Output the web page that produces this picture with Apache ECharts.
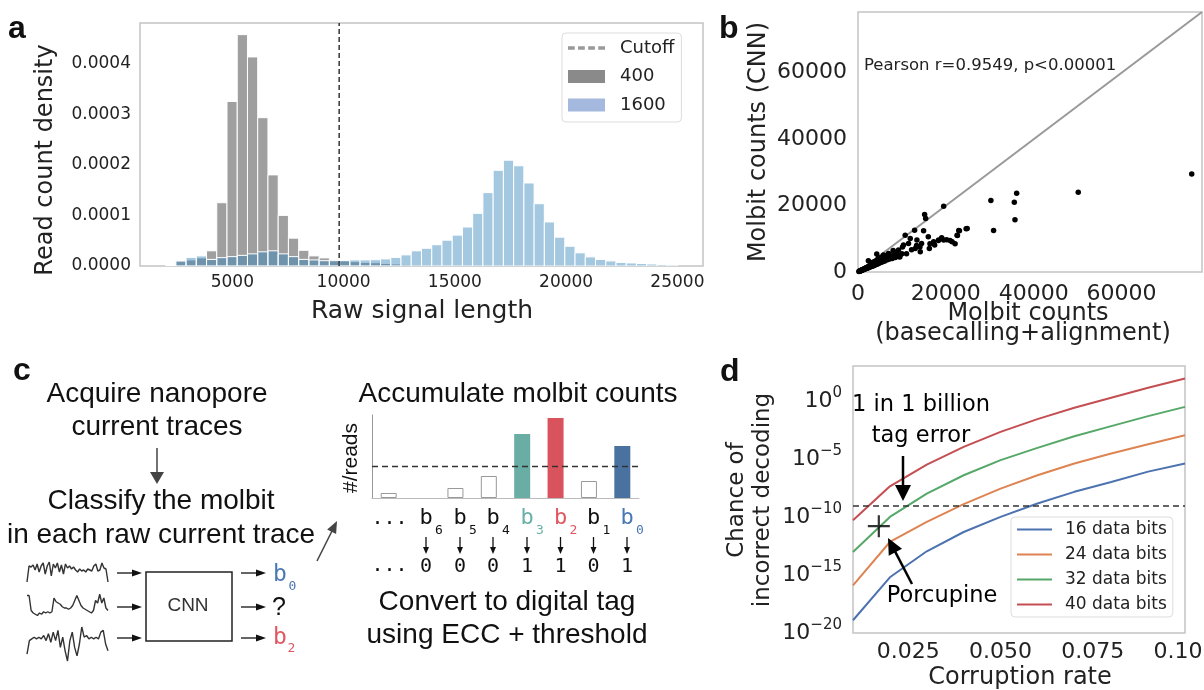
<!DOCTYPE html>
<html><head><meta charset="utf-8">
<script src="https://cdn.jsdelivr.net/npm/echarts@6/dist/echarts.min.js"></script>
<style>html,body{margin:0;padding:0;background:#fff}#c{width:1204px;height:690px}</style>
</head><body><div id="c"></div>
<script>
// ---------- Panel a: histogram of raw signal length ----------
const binStart = 2000, binWidth = 460;
const density400 = [0.01e-4,0.10e-4,0.12e-4,0.16e-4,0.30e-4,1.25e-4,3.25e-4,4.57e-4,4.13e-4,2.93e-4,1.80e-4,1.00e-4,0.55e-4,0.31e-4,0.20e-4,0.16e-4,0.12e-4,0.10e-4,0.085e-4,0.07e-4,0.065e-4,0.05e-4,0.04e-4,0.03e-4,0.02e-4,0.015e-4,0.01e-4,0.008e-4,0.005e-4,0,0,0,0,0,0,0,0,0,0,0,0,0,0,0,0,0,0,0,0,0];
const density1600 = [0.01e-4,0.10e-4,0.17e-4,0.20e-4,0.13e-4,0.165e-4,0.185e-4,0.21e-4,0.24e-4,0.28e-4,0.30e-4,0.24e-4,0.185e-4,0.13e-4,0.12e-4,0.105e-4,0.105e-4,0.11e-4,0.12e-4,0.12e-4,0.125e-4,0.14e-4,0.17e-4,0.22e-4,0.30e-4,0.35e-4,0.42e-4,0.51e-4,0.61e-4,0.77e-4,1.04e-4,1.45e-4,1.89e-4,2.09e-4,1.98e-4,1.64e-4,1.23e-4,0.87e-4,0.57e-4,0.39e-4,0.26e-4,0.18e-4,0.13e-4,0.10e-4,0.07e-4,0.06e-4,0.05e-4,0.04e-4,0.03e-4,0.02e-4];
const cutoff = 9800;
const xTicksA = [5000,10000,15000,20000,25000];
const yTicksA = [0,0.0001,0.0002,0.0003,0.0004];

// ---------- Panel b: molbit counts scatter ----------
const molbitPoints = [
[200,150],[300,200],[400,250],[450,350],[500,300],[600,400],[650,350],[700,500],[800,450],[850,600],[900,550],[1000,700],[1050,600],[1100,750],[1200,700],[1250,850],[1300,800],[1400,900],[1450,1000],[1500,850],[1600,1000],[1650,1150],[1700,950],[1800,1100],[1850,1300],[1900,1050],[2000,1250],[2100,1400],[2150,1150],[2200,1350],[2300,1550],[2350,1250],[2400,1450],[2500,1700],[2600,1400],[2650,1600],[2700,1850],[2800,1550],[2900,1750],[3000,2000],[3000,2600],[3100,1650],[3200,1900],[3300,2200],[3400,1800],[3500,2100],[3500,3000],[3600,2400],[3700,1950],[3800,2300],[3900,2600],[4000,2150],[4000,3300],[4100,2500],[4200,2800],[4300,2300],[4400,2700],[4500,3000],[4500,3800],[4600,2500],[4700,2900],[4800,3200],[4900,2700],[5000,3100],[5000,4200],[5100,3400],[5200,2900],[5300,3300],[5400,3600],[5500,3000],[5500,4500],[5600,3500],[5700,3800],[5800,3200],[5900,3700],[6000,4000],[6000,4800],[6100,3300],[6300,3900],[6500,4200],[6500,5000],[6700,3700],[6900,4100],[7000,4500],[7000,5300],[7200,3900],[7400,4300],[7600,4700],[7800,4100],[8000,4500],[8300,5000],[8500,4400],[8800,4800],[9000,5200],[9300,4700],[9600,5100],[10000,5500],
[8000,6500],[8760,5500],[9520,4500],[10130,7500],[11050,5500],[12190,6700],[13330,8000],[14100,7500],[16380,8500],[18290,9500],[19050,10300],[20190,9700],[20950,9500],[22100,8500],
[2360,3400],[4270,5400],[4640,4200],[5800,5100],[6940,5600],[8080,6100],[8460,4700],[9220,6600],[10360,8100],[10740,11100],[11500,8600],[11890,10100],[12880,12600],[13030,7100],[13410,9600],[14170,6100],[14470,8600],[14930,12400],[15160,17300],[15400,16100],[16000,10600],[16240,7100],[17220,9100],[17450,8100],[18370,9600],[19500,9600],[19500,19800],[21420,9100],[22560,11100],[22630,11000],[22930,12500],[23090,12400],[24610,13000],[24850,13100],
[30250,21500],[30860,12500],[35580,21000],[35730,15700],[36110,23700],[50130,24000],[75960,29500]
];
const axisMaxB = 78300;
const ticksB = [0,20000,40000,60000];

// ---------- Panel c: accumulated molbit counts ----------
const molbitSlots = ['...','b6','b5','b4','b3','b2','b1','b0'];
const readsCounts = [5,0,10,22,64,80,17,52];
const readsThreshold = 32;
const tagBits = ['0','0','0','1','1','0','1'];
const trace1 = [0,8,7.5,8.5,6,9,5,8,9.5,4,8,10,3,9,7,9.5,5,8.5,4,9,7,8,6.5,7.5,6,5,6.5,5.5,6,5,6.5,6,5.5,8,9,5.5,6,9.5,7,6.5,0];
const trace2 = [9,9,3,2,1.5,1,2,1.5,2.5,2,2.5,2,2.5,8,6.5,6,5.5,4.5,4,4,3.5,4,5,7,9,7,5,4,3.5,3,2.5,2,3,7,6,9.5,6,8,4,3];
const trace3 = [2,6,6.5,7,6.5,7,6.5,7.5,6,8,5.5,8.5,6,9,4,7,3,0,6,8.5,4,1.5,5,10,7,7.5,6.5,7,6.5,7,6.5,8.5,9,5,3];

// ---------- Panel d: decoding error (log10 of probability) ----------
const corruptionRate = [0.01,0.02,0.03,0.04,0.05,0.06,0.07,0.08,0.09,0.10];
const logErr16 = [-18.9,-15.2,-12.96,-11.3,-10.0,-8.85,-7.84,-7.0,-6.1,-5.4];
const logErr24 = [-15.9,-12.16,-10.43,-8.9,-7.56,-6.41,-5.4,-4.54,-3.74,-2.96];
const logErr32 = [-13.02,-10.0,-7.99,-6.41,-5.11,-4.05,-3.05,-2.18,-1.32,-0.52];
const logErr40 = [-10.29,-7.36,-5.49,-3.97,-2.67,-1.58,-0.6,0.26,1.12,1.93];
const logThreshold = -9;
const porcupine = [0.017, -10.8];
const xTicksD = [0.025,0.05,0.075,0.1];
const yTicksD = [-20,-15,-10,-5,0];

// ---------- build ----------
const F = 'DejaVu Sans', A = 'Liberation Sans', M = 'DejaVu Sans Mono';
const TXT = '#222';
const chart = echarts.init(document.getElementById('c'), null, {renderer:'canvas'});

function histData(arr){ return arr.map((v,i)=>[binStart+i*binWidth, binStart+(i+1)*binWidth, v]); }
function histRender(fill){
  return function(params, api){
    const p0 = api.coord([api.value(0), api.value(2)]);
    const p1 = api.coord([api.value(1), 0]);
    return {type:'rect', shape:{x:p0[0], y:p0[1], width:p1[0]-p0[0], height:p1[1]-p0[1]},
      style:{fill:fill, stroke:'#fff', lineWidth:1}};
  };
}
function txt(text, x, y, o){
  o = o || {};
  return {type:'text', x:x, y:y, rotation:o.rot||0, z:100,
    style:{text:text, fill:o.color||'#111', fontSize:o.size||22, fontFamily:o.font||F,
      fontWeight:o.weight||'normal', align:o.align||'center', verticalAlign:'middle'}};
}
function arrow(x1,y1,x2,y2,o){
  o = o || {};
  const c=o.color||'#111', w=o.width||1.5, hl=o.hl||8, hw=o.hw||7;
  const ang=Math.atan2(y2-y1,x2-x1);
  const bx=x2-hl*Math.cos(ang), by=y2-hl*Math.sin(ang);
  const px=-Math.sin(ang)*hw/2, py=Math.cos(ang)*hw/2;
  return [
    {type:'line', z:100, shape:{x1:x1,y1:y1,x2:bx+(x2-bx)*0.3,y2:by+(y2-by)*0.3}, style:{stroke:c,lineWidth:w}},
    {type:'polygon', z:100, shape:{points:[[x2,y2],[bx+px,by+py],[bx-px,by-py]]}, style:{fill:c}}
  ];
}
const frame = {show:true, borderColor:'#c4c4c4', borderWidth:1.5, backgroundColor:'transparent', outerBoundsMode:'none'};
const hidden = {show:false};
const plain = v => String(v);

const grids = [
  Object.assign({left:140, top:23, width:563, height:243}, frame),
  Object.assign({left:858, top:12, width:344, height:260}, frame),
  {left:372, top:415, width:267, height:83},
  Object.assign({left:853, top:366, width:332, height:267}, frame),
  {left:27, top:561, width:81, height:22},
  {left:27, top:593, width:81, height:25},
  {left:27, top:626, width:81, height:36}
];

const lblA = {fontSize:17, fontFamily:F, color:TXT};
const xAxes = [
  {gridIndex:0, type:'value', min:850, max:26150, axisLine:hidden, axisTick:hidden, splitLine:hidden,
    axisLabel:Object.assign({customValues:xTicksA, margin:8, formatter:plain}, lblA)},
  {gridIndex:1, type:'value', min:0, max:axisMaxB, axisLine:hidden, axisTick:hidden, splitLine:hidden,
    axisLabel:{customValues:ticksB, margin:11, fontSize:22, fontFamily:F, color:TXT, formatter:plain}},
  {gridIndex:2, type:'category', data:molbitSlots, axisLine:{lineStyle:{color:'#bbb', width:1}}, axisTick:hidden, axisLabel:hidden},
  {gridIndex:3, type:'value', min:0.01, max:0.1, axisLine:hidden, axisTick:hidden, splitLine:hidden,
    axisLabel:{customValues:xTicksD, margin:8, fontSize:22, fontFamily:F, color:TXT, formatter:v=>v.toFixed(3),
      alignMaxLabel:'center'}},
  {gridIndex:4, type:'category', boundaryGap:false, show:false, data:trace1.map((v,i)=>i)},
  {gridIndex:5, type:'category', boundaryGap:false, show:false, data:trace2.map((v,i)=>i)},
  {gridIndex:6, type:'category', boundaryGap:false, show:false, data:trace3.map((v,i)=>i)}
];
const yAxes = [
  {gridIndex:0, type:'value', min:0, max:0.00048, axisLine:hidden, axisTick:hidden, splitLine:hidden,
    axisLabel:Object.assign({customValues:yTicksA, margin:9, formatter:v=>v.toFixed(4)}, lblA)},
  {gridIndex:1, type:'value', min:0, max:axisMaxB, axisLine:hidden, axisTick:hidden, splitLine:hidden,
    axisLabel:{customValues:ticksB, margin:11, fontSize:22, fontFamily:F, color:TXT, formatter:plain}},
  {gridIndex:2, type:'value', min:0, max:83, axisLine:{show:true, lineStyle:{color:'#999', width:1}}, axisTick:hidden, axisLabel:hidden, splitLine:hidden},
  {gridIndex:3, type:'value', min:-20, max:3, axisLine:hidden, axisTick:hidden, splitLine:hidden,
    axisLabel:{customValues:yTicksD, margin:11,
      formatter:v=>'{b|10}{s|' + (v<0 ? '\u2212'+(-v) : v) + '}',
      rich:{b:{fontSize:22, fontFamily:F, color:TXT, lineHeight:30}, s:{fontSize:15, fontFamily:F, color:TXT, lineHeight:15, verticalAlign:'top'}}}},
  {gridIndex:4, type:'value', show:false, min:-0.5, max:10.5},
  {gridIndex:5, type:'value', show:false, min:0, max:10},
  {gridIndex:6, type:'value', show:false, min:-0.3, max:10.3}
];

const barStyles = [
  {color:'#fff', borderColor:'#999', borderWidth:1},
  {color:'#fff', borderWidth:0},
  {color:'#fff', borderColor:'#999', borderWidth:1},
  {color:'#fff', borderColor:'#999', borderWidth:1},
  {color:'#6aada5'},
  {color:'#d8535b'},
  {color:'#fff', borderColor:'#999', borderWidth:1},
  {color:'#4a72a0'}
];
const dColors = ['#4c72b0','#dd8452','#55a868','#c44e52'];
const lineIcon = 'path://M0,0h35v2.2h-35z';

const series = [
  {name:'400', type:'custom', xAxisIndex:0, yAxisIndex:0, data:histData(density400), encode:{x:[0,1], y:2},
    renderItem:histRender('#9f9f9f'), itemStyle:{color:'#8a8a8a'}, clip:true, z:2},
  {name:'1600', type:'custom', xAxisIndex:0, yAxisIndex:0, data:histData(density1600), encode:{x:[0,1], y:2},
    renderItem:histRender('rgba(55,133,189,0.45)'), itemStyle:{color:'#a4b9dd'}, clip:true, z:3},
  {name:'Cutoff', type:'line', xAxisIndex:0, yAxisIndex:0, data:[[cutoff,0],[cutoff,0.00048]], symbol:'none',
    lineStyle:{color:'#333', type:[5,3], width:1.5}, itemStyle:{color:'#999'}, z:4, silent:true},
  {name:'diag', type:'line', xAxisIndex:1, yAxisIndex:1, data:[[0,0],[axisMaxB,axisMaxB]], symbol:'none',
    lineStyle:{color:'#999', width:2}, z:2, silent:true},
  {name:'molbit', type:'scatter', xAxisIndex:1, yAxisIndex:1, data:molbitPoints, symbolSize:5.5,
    itemStyle:{color:'#000', opacity:1}, z:3, silent:true},
  {name:'reads', type:'bar', xAxisIndex:2, yAxisIndex:2, barWidth:16,
    data:readsCounts.map((v,i)=>({value:v, itemStyle:barStyles[i]})), silent:true,
    markLine:{silent:true, symbol:['none','none'], label:{show:false},
      lineStyle:{color:'#333', type:[6,4], width:1.3}, data:[{yAxis:readsThreshold}]}},
  {name:'16 data bits', type:'line', xAxisIndex:3, yAxisIndex:3, data:corruptionRate.map((x,i)=>[x,logErr16[i]]),
    symbol:'none', lineStyle:{width:2, color:dColors[0]}, itemStyle:{color:dColors[0]},
    markLine:{silent:true, symbol:['none','none'], label:{show:false},
      lineStyle:{color:'#333', type:[6,4], width:1.5}, data:[{yAxis:logThreshold}]}},
  {name:'24 data bits', type:'line', xAxisIndex:3, yAxisIndex:3, data:corruptionRate.map((x,i)=>[x,logErr24[i]]),
    symbol:'none', lineStyle:{width:2, color:dColors[1]}, itemStyle:{color:dColors[1]}},
  {name:'32 data bits', type:'line', xAxisIndex:3, yAxisIndex:3, data:corruptionRate.map((x,i)=>[x,logErr32[i]]),
    symbol:'none', lineStyle:{width:2, color:dColors[2]}, itemStyle:{color:dColors[2]}},
  {name:'40 data bits', type:'line', xAxisIndex:3, yAxisIndex:3, data:corruptionRate.map((x,i)=>[x,logErr40[i]]),
    symbol:'none', lineStyle:{width:2, color:dColors[3]}, itemStyle:{color:dColors[3]}},
  {name:'Porcupine', type:'scatter', xAxisIndex:3, yAxisIndex:3, data:[porcupine], symbolSize:22,
    symbol:'path://M9,0h2v9h9v2h-9v9h-2v-9h-9v-2h9z', itemStyle:{color:'#000'}, z:5, silent:true},
  {name:'t1', type:'line', xAxisIndex:4, yAxisIndex:4, data:trace1, symbol:'none', lineStyle:{color:'#333', width:1.4}, silent:true},
  {name:'t2', type:'line', xAxisIndex:5, yAxisIndex:5, data:trace2, symbol:'none', lineStyle:{color:'#333', width:1.4}, silent:true},
  {name:'t3', type:'line', xAxisIndex:6, yAxisIndex:6, data:trace3, symbol:'none', lineStyle:{color:'#333', width:1.4}, silent:true}
];

const legends = [
  {left:562, top:33, orient:'vertical', itemWidth:37, itemHeight:13, itemGap:10.5, padding:[6,7,8,6],
    borderColor:'#ddd', borderWidth:1, borderRadius:4, selectedMode:false,
    textStyle:{fontSize:18, fontFamily:F, color:TXT, padding:[0,0,0,10]},
    data:[
      {name:'Cutoff', icon:'path://M0,0h4v2h-4zM6,0h4v2h-4zM12,0h4v2h-4zM18,0h4v2h-4z', itemStyle:{color:'#999'}},
      {name:'400', icon:'rect', itemStyle:{color:'#8a8a8a'}},
      {name:'1600', icon:'rect', itemStyle:{color:'#a4b9dd'}}
    ]},
  {left:1011, top:517, orient:'vertical', itemWidth:35, itemHeight:14, itemGap:8, padding:[4,6,4,6],
    borderColor:'#ddd', borderWidth:1, borderRadius:4, selectedMode:false,
    textStyle:{fontSize:17, fontFamily:F, color:TXT, padding:[0,0,0,8]},
    data:['16 data bits','24 data bits','32 data bits','40 data bits'].map((n,i)=>({name:n, icon:lineIcon, itemStyle:{color:dColors[i]}}))}
];

let g = [];
// panel letters
g.push(txt('a', 8, 29, {size:32, weight:'bold', font:A, align:'left'}));
g.push(txt('b', 719, 29, {size:32, weight:'bold', font:A, align:'left'}));
g.push(txt('c', 13, 371, {size:32, weight:'bold', font:A, align:'left'}));
g.push(txt('d', 720, 372, {size:32, weight:'bold', font:A, align:'left'}));
// panel a titles
g.push(txt('Read count density', 46, 160, {size:24, rot:Math.PI/2, color:TXT}));
g.push(txt('Raw signal length', 422, 311, {size:25, color:TXT}));
// panel b titles
g.push(txt('Molbit counts (CNN)', 759, 142, {size:24, rot:Math.PI/2, color:TXT}));
g.push(txt('Molbit counts', 1028, 314, {size:24, color:TXT}));
g.push(txt('(basecalling+alignment)', 1023, 334, {size:24, color:TXT}));
g.push(txt('Pearson r=0.9549, p<0.00001', 864, 66, {size:16.5, color:TXT, align:'left'}));
// panel d titles & annotations
g.push(txt('Chance of', 737, 500, {size:23, rot:Math.PI/2, color:TXT}));
g.push(txt('incorrect decoding', 763, 500, {size:23, rot:Math.PI/2, color:TXT}));
g.push(txt('Corruption rate', 1020, 678, {size:24, color:TXT}));
g.push(txt('1 in 1 billion', 921, 405, {size:22.5, color:'#000'}));
g.push(txt('tag error', 921, 436, {size:22.5, color:'#000'}));
g.push(txt('Porcupine', 942, 596, {size:22.5, color:'#000'}));
g = g.concat(arrow(903,456,903,501,{color:'#000', width:2.5, hl:16, hw:16}));
g = g.concat(arrow(912,584,888,538,{color:'#000', width:2.5, hl:16, hw:15}));
// panel c texts
g.push(txt('Acquire nanopore', 157, 394, {size:28, font:A}));
g.push(txt('current traces', 157, 427.5, {size:28, font:A}));
g.push(txt('Classify the molbit', 161, 501, {size:28, font:A}));
g.push(txt('in each raw current trace', 161, 535, {size:28, font:A}));
g.push(txt('Accumulate molbit counts', 518, 394, {size:28, font:A}));
g.push(txt('Convert to digital tag', 507, 602.5, {size:28, font:A}));
g.push(txt('using ECC + threshold', 507, 635, {size:28, font:A}));
g.push(txt('#/reads', 351, 458, {size:21, font:A, rot:Math.PI/2}));
g = g.concat(arrow(157,448,157,484,{color:'#444', width:1.5, hl:12, hw:14}));
g = g.concat(arrow(317,561,337,521,{color:'#444', width:1.5, hl:12, hw:10}));
[573,607,638].forEach(y=>{
  g = g.concat(arrow(117,y,142,y,{color:'#111', width:1.3, hl:10, hw:7}));
  g = g.concat(arrow(241,y,266,y,{color:'#111', width:1.3, hl:10, hw:7}));
});
g.push({type:'rect', z:100, shape:{x:146, y:572, width:86, height:69}, style:{fill:'none', stroke:'#222', lineWidth:1.5}});
g.push(txt('CNN', 188, 606, {size:19, font:A, color:'#333'}));
g.push(txt('b', 280, 575, {size:23, font:M, color:'#4a78b5'}));
g.push(txt('0', 292.5, 586.5, {size:13, font:M, color:'#4a78b5'}));
g.push(txt('?', 279, 608, {size:25, font:A, color:'#111'}));
g.push(txt('b', 280, 638, {size:23, font:M, color:'#e0565f'}));
g.push(txt('2', 291.5, 648.5, {size:13, font:M, color:'#e0565f'}));
// bit labels row
const bitX = [426,460,493,527,560.5,593.5,627];
const bitColors = ['#111','#111','#111','#6ab0a8','#e0565f','#111','#4a78b5'];
g.push(txt('...', 389.5, 519, {size:20, font:M}));
g.push(txt('...', 389.5, 566, {size:20, font:M}));
molbitSlots.slice(1).forEach((s,i)=>{
  g.push(txt('b', bitX[i], 518.5, {size:22, font:M, color:bitColors[i]}));
  g.push(txt(s.slice(1), bitX[i]+13, 531, {size:13, font:M, color:bitColors[i]}));
  g = g.concat(arrow(bitX[i],537,bitX[i],554,{color:'#111', width:1.3, hl:7, hw:6}));
  g.push(txt(tagBits[i], bitX[i], 567, {size:20, font:M}));
});

chart.setOption({
  animation:false,
  backgroundColor:'#fff',
  grid:grids, xAxis:xAxes, yAxis:yAxes, series:series, legend:legends, graphic:g
});
</script></body></html>
